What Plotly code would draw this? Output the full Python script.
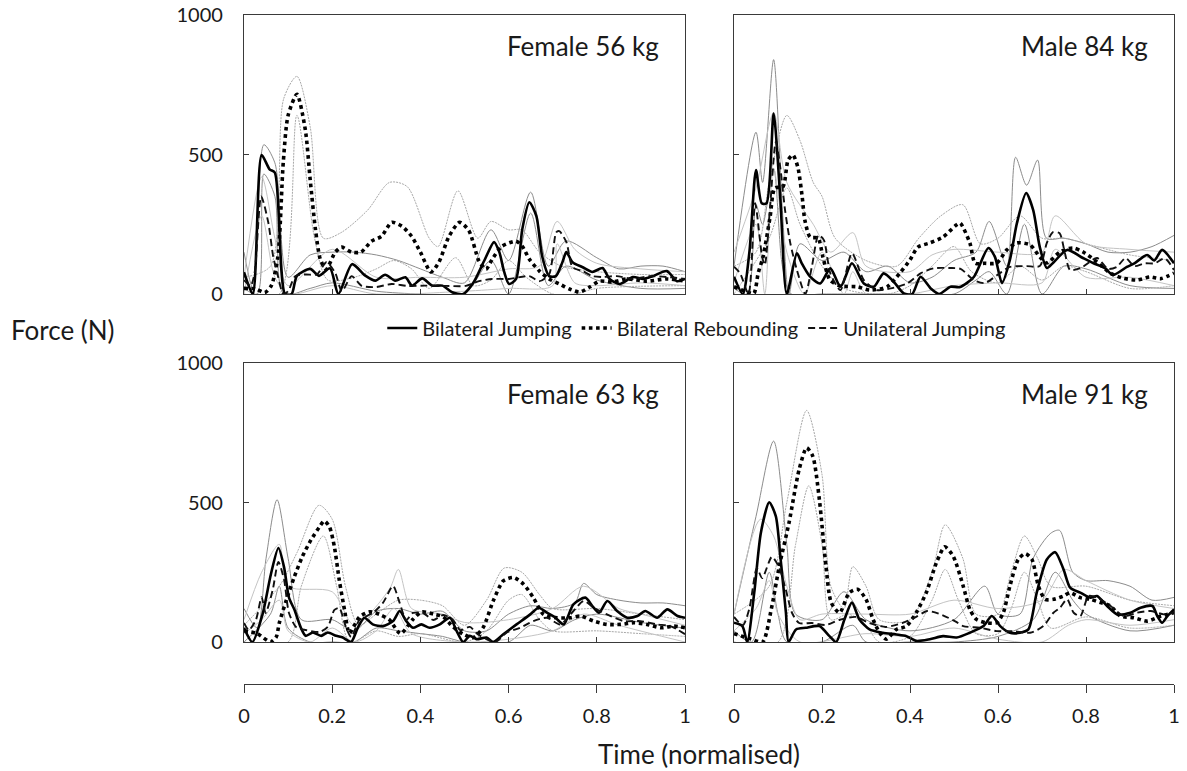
import plotly.graph_objects as go

# ---------------- data (time normalised, force N) ----------------
PANELS = ["Female 56 kg", "Male 84 kg", "Female 63 kg", "Male 91 kg"]
SERIES = ["Bilateral Jumping", "Bilateral Rebounding", "Unilateral Jumping"]
X_TICKS = [0, 0.2, 0.4, 0.6, 0.8, 1]
X_TICK_TEXT = ["0", "0.2", "0.4", "0.6", "0.8", "1"]
Y_TICKS = [0, 500, 1000]

# Female 56 kg
F56_BJ = [(0,78),(0.02,0),(0.04,498),(0.058,447),(0.07,435),(0.093,0),(0.108,0),(0.12,65),(0.15,90),(0.17,65),(0.195,92),(0.214,0),(0.245,107),(0.275,66),(0.298,48),(0.32,69),(0.343,48),(0.366,60),(0.381,30),(0.404,56),(0.427,30),(0.45,30),(0.472,6),(0.497,0),(0.52,40),(0.545,120),(0.567,186),(0.579,150),(0.59,79),(0.601,36),(0.617,54),(0.631,232),(0.647,329),(0.663,279),(0.676,136),(0.692,64),(0.707,64),(0.722,114),(0.731,150),(0.745,114),(0.768,96),(0.79,79),(0.813,93),(0.829,54),(0.852,36),(0.882,61),(0.905,54),(0.927,64),(0.959,82),(0.982,46),(1,54)]
F56_BR = [(0,20),(0.027,18),(0.047,5),(0.062,30),(0.077,136),(0.089,471),(0.1,640),(0.12,716),(0.139,589),(0.15,411),(0.162,232),(0.173,125),(0.186,89),(0.207,150),(0.221,168),(0.244,150),(0.265,150),(0.289,189),(0.312,207),(0.335,257),(0.358,243),(0.38,207),(0.4,150),(0.424,79),(0.442,114),(0.465,207),(0.489,257),(0.51,227),(0.533,118),(0.549,89),(0.563,125),(0.585,171),(0.617,189),(0.631,171),(0.647,125),(0.67,82),(0.692,54),(0.715,36),(0.738,18),(0.761,7),(0.784,25),(0.806,46),(0.836,43),(0.868,54),(0.913,46),(0.959,54),(1,46)]
F56_UJ = [(0,50),(0.015,30),(0.024,75),(0.039,350),(0.055,257),(0.066,136),(0.077,64),(0.089,0),(0.1,10),(0.116,64),(0.14,70),(0.165,70),(0.187,114),(0.207,75),(0.222,10),(0.244,64),(0.267,29),(0.3,25),(0.335,36),(0.37,29),(0.41,30),(0.457,29),(0.503,29),(0.533,46),(0.563,54),(0.601,54),(0.647,64),(0.67,46),(0.692,71),(0.708,221),(0.715,225),(0.731,186),(0.745,96),(0.768,82),(0.79,64),(0.813,61),(0.845,64),(0.882,54),(0.92,64),(0.959,61),(1,54)]
F56_BJ_HI = [(0,150),(0.02,20),(0.045,535),(0.07,470),(0.1,60),(0.15,140),(0.2,150),(0.25,150),(0.3,140),(0.35,120),(0.4,90),(0.45,60),(0.5,40),(0.56,230),(0.6,120),(0.65,365),(0.69,100),(0.73,190),(0.8,130),(0.85,90),(0.9,100),(0.95,100),(1,80)]
F56_BJ_LO = [(0,20),(0.03,0),(0.045,430),(0.07,350),(0.09,0),(0.15,20),(0.2,40),(0.3,10),(0.4,0),(0.5,0),(0.56,120),(0.6,0),(0.65,290),(0.69,30),(0.73,100),(0.8,50),(0.9,20),(1,20)]
F56_BR_HI = [(0,60),(0.06,100),(0.09,700),(0.12,780),(0.15,600),(0.18,200),(0.22,220),(0.28,300),(0.33,400),(0.37,385),(0.42,200),(0.44,170),(0.485,370),(0.53,200),(0.56,260),(0.6,230),(0.63,230),(0.67,150),(0.72,100),(0.8,80),(0.9,70),(1,70)]
F56_BR_LO = [(0,0),(0.08,0),(0.12,640),(0.16,200),(0.19,50),(0.25,60),(0.3,90),(0.34,120),(0.38,90),(0.42,20),(0.48,130),(0.52,30),(0.56,50),(0.6,120),(0.64,60),(0.7,0),(0.75,0),(0.8,20),(1,30)]
F56_UJ_HI = [(0,60),(0.04,420),(0.07,200),(0.1,30),(0.2,160),(0.3,60),(0.4,60),(0.5,60),(0.6,90),(0.67,100),(0.71,260),(0.75,160),(0.8,110),(0.9,90),(1,80)]
F56_UJ_LO = [(0,0),(0.04,280),(0.07,60),(0.1,0),(0.2,30),(0.3,0),(0.5,10),(0.6,20),(0.7,30),(0.71,180),(0.75,40),(0.8,30),(0.9,40),(1,30)]

# Male 84 kg
M84_BJ = [(0,62),(0.02,0),(0.035,150),(0.05,444),(0.063,325),(0.074,325),(0.09,647),(0.105,349),(0.12,0),(0.143,146),(0.154,110),(0.173,62),(0.196,38),(0.219,92),(0.242,26),(0.268,110),(0.295,38),(0.318,26),(0.34,74),(0.363,44),(0.386,2),(0.405,0),(0.424,62),(0.447,20),(0.466,0),(0.492,26),(0.514,25),(0.545,61),(0.578,165),(0.593,133),(0.609,39),(0.627,122),(0.643,254),(0.664,362),(0.68,301),(0.695,168),(0.711,93),(0.725,111),(0.757,158),(0.793,129),(0.816,111),(0.843,93),(0.861,68),(0.893,97),(0.91,110),(0.939,140),(0.955,120),(0.973,158),(1,110)]
M84_BR = [(0,26),(0.029,8),(0.045,2),(0.055,75),(0.066,133),(0.082,276),(0.093,380),(0.111,384),(0.123,480),(0.134,498),(0.145,455),(0.155,348),(0.161,265),(0.173,204),(0.191,200),(0.202,133),(0.218,50),(0.241,29),(0.28,26),(0.309,14),(0.348,26),(0.377,75),(0.4,122),(0.418,168),(0.445,183),(0.475,204),(0.505,247),(0.514,254),(0.536,183),(0.548,111),(0.57,110),(0.597,111),(0.62,158),(0.643,183),(0.673,176),(0.695,133),(0.711,111),(0.741,151),(0.77,165),(0.793,151),(0.825,115),(0.855,75),(0.884,57),(0.916,50),(0.945,61),(0.97,55),(1,75)]
M84_UJ = [(0,98),(0.014,74),(0.033,0),(0.048,325),(0.064,133),(0.07,104),(0.082,312),(0.095,545),(0.105,456),(0.116,301),(0.128,182),(0.143,86),(0.162,0),(0.177,98),(0.192,211),(0.204,194),(0.219,74),(0.242,14),(0.268,146),(0.295,50),(0.325,14),(0.356,20),(0.394,38),(0.424,74),(0.454,92),(0.491,93),(0.515,90),(0.545,50),(0.57,39),(0.6,70),(0.627,97),(0.665,100),(0.695,100),(0.711,183),(0.725,222),(0.74,218),(0.752,147),(0.764,86),(0.79,95),(0.825,129),(0.85,90),(0.87,97),(0.89,129),(0.91,100),(0.933,110),(0.956,110),(0.979,128),(1,86)]
M84_BJ_HI = [(0,100),(0.05,580),(0.065,400),(0.09,840),(0.11,300),(0.125,0),(0.15,180),(0.2,120),(0.25,150),(0.3,80),(0.35,100),(0.4,40),(0.45,60),(0.5,120),(0.55,150),(0.58,260),(0.62,100),(0.64,490),(0.665,390),(0.69,480),(0.71,200),(0.75,200),(0.8,180),(0.85,150),(0.9,150),(0.95,170),(1,210)]
M84_BJ_LO = [(0,20),(0.03,0),(0.05,320),(0.065,250),(0.09,450),(0.11,100),(0.13,0),(0.2,0),(0.3,0),(0.4,0),(0.5,0),(0.55,50),(0.58,80),(0.62,0),(0.66,250),(0.7,0),(0.75,100),(0.8,90),(0.9,30),(1,20)]
M84_BR_HI = [(0,100),(0.05,150),(0.08,400),(0.12,640),(0.15,550),(0.18,400),(0.2,350),(0.23,200),(0.3,120),(0.37,100),(0.42,200),(0.47,280),(0.52,320),(0.56,180),(0.6,200),(0.65,280),(0.7,200),(0.75,200),(0.8,180),(0.9,140),(1,120)]
M84_BR_LO = [(0,0),(0.08,200),(0.12,380),(0.15,250),(0.2,100),(0.25,20),(0.35,0),(0.4,30),(0.45,100),(0.5,170),(0.54,80),(0.6,40),(0.65,100),(0.7,50),(0.75,100),(0.8,80),(0.9,20),(1,30)]
M84_UJ_HI = [(0,150),(0.05,380),(0.09,650),(0.12,400),(0.18,250),(0.22,150),(0.27,220),(0.3,100),(0.4,80),(0.45,140),(0.5,160),(0.6,150),(0.7,150),(0.73,280),(0.8,180),(0.9,160),(1,150)]
M84_UJ_LO = [(0,40),(0.05,250),(0.07,0),(0.09,450),(0.12,150),(0.16,0),(0.2,150),(0.25,0),(0.27,80),(0.3,0),(0.4,0),(0.5,30),(0.6,40),(0.7,40),(0.73,160),(0.8,60),(0.9,60),(1,30)]

# Female 63 kg
F63_BJ = [(0,51),(0.019,0),(0.042,99),(0.061,243),(0.078,337),(0.091,267),(0.102,159),(0.114,117),(0.129,51),(0.14,22),(0.156,34),(0.175,22),(0.19,34),(0.209,22),(0.224,16),(0.243,0),(0.258,51),(0.273,87),(0.292,63),(0.315,57),(0.338,75),(0.353,111),(0.368,75),(0.383,51),(0.402,63),(0.421,51),(0.444,63),(0.467,87),(0.482,40),(0.497,0),(0.512,22),(0.527,10),(0.55,16),(0.565,0),(0.588,28),(0.618,63),(0.649,99),(0.668,123),(0.687,105),(0.706,87),(0.725,63),(0.747,135),(0.774,159),(0.79,129),(0.805,105),(0.824,147),(0.846,111),(0.869,87),(0.892,93),(0.91,111),(0.937,87),(0.96,117),(0.983,93),(1,87)]
F63_BR = [(0,40),(0.03,30),(0.06,0),(0.073,18),(0.08,68),(0.096,150),(0.114,233),(0.132,305),(0.152,366),(0.171,412),(0.182,434),(0.194,412),(0.205,341),(0.216,222),(0.228,115),(0.239,32),(0.262,90),(0.285,108),(0.31,97),(0.33,79),(0.355,30),(0.383,81),(0.403,108),(0.43,100),(0.452,90),(0.474,54),(0.497,28),(0.52,16),(0.542,51),(0.565,147),(0.588,219),(0.611,231),(0.634,207),(0.656,159),(0.679,99),(0.709,87),(0.74,87),(0.763,93),(0.793,75),(0.823,63),(0.854,63),(0.884,69),(0.914,63),(0.945,51),(0.975,57),(1,51)]
F63_UJ = [(0,68),(0.011,43),(0.027,79),(0.04,161),(0.049,104),(0.065,186),(0.078,287),(0.091,222),(0.102,104),(0.118,54),(0.14,43),(0.171,36),(0.19,54),(0.205,115),(0.216,122),(0.231,54),(0.243,18),(0.262,79),(0.292,104),(0.315,140),(0.338,201),(0.353,140),(0.368,79),(0.383,104),(0.406,104),(0.429,79),(0.452,97),(0.474,79),(0.49,43),(0.512,54),(0.53,28),(0.55,10),(0.57,0),(0.596,34),(0.626,51),(0.656,75),(0.687,87),(0.717,63),(0.747,111),(0.77,147),(0.793,123),(0.823,99),(0.861,75),(0.899,75),(0.937,63),(0.967,57),(1,28)]
F63_BJ_HI = [(0,120),(0.03,50),(0.05,300),(0.075,510),(0.1,300),(0.13,80),(0.2,80),(0.25,40),(0.3,110),(0.35,120),(0.4,100),(0.45,110),(0.5,40),(0.55,40),(0.6,100),(0.65,130),(0.7,120),(0.75,140),(0.77,210),(0.8,170),(0.85,150),(0.9,140),(0.95,140),(1,130)]
F63_BJ_LO = [(0,0),(0.06,100),(0.08,200),(0.1,50),(0.15,0),(0.2,0),(0.25,0),(0.3,50),(0.35,40),(0.4,30),(0.45,20),(0.5,0),(0.6,0),(0.65,60),(0.7,40),(0.75,80),(0.8,100),(0.9,70),(1,50)]
F63_BR_HI = [(0,60),(0.08,200),(0.12,320),(0.17,490),(0.2,440),(0.23,200),(0.26,60),(0.3,100),(0.35,150),(0.4,150),(0.45,130),(0.5,60),(0.55,150),(0.59,265),(0.63,250),(0.67,170),(0.7,120),(0.8,120),(0.9,100),(1,80)]
F63_BR_LO = [(0,0),(0.1,0),(0.13,200),(0.18,380),(0.21,200),(0.24,0),(0.3,40),(0.35,20),(0.4,30),(0.5,0),(0.55,40),(0.6,150),(0.63,170),(0.67,80),(0.7,40),(0.8,40),(0.9,30),(1,20)]
F63_UJ_HI = [(0,80),(0.04,250),(0.08,350),(0.1,200),(0.2,180),(0.25,60),(0.33,190),(0.35,260),(0.38,120),(0.45,100),(0.5,70),(0.6,80),(0.7,120),(0.77,200),(0.85,120),(0.9,100),(1,60)]
F63_UJ_LO = [(0,30),(0.04,80),(0.08,150),(0.1,40),(0.15,0),(0.2,50),(0.25,0),(0.3,40),(0.34,120),(0.38,30),(0.5,0),(0.6,10),(0.7,40),(0.77,100),(0.85,60),(1,0)]

# Male 91 kg
M91_BJ = [(0,69),(0.019,57),(0.03,0),(0.046,177),(0.061,391),(0.08,501),(0.095,451),(0.106,296),(0.118,105),(0.124,0),(0.141,45),(0.163,51),(0.194,57),(0.217,21),(0.232,0),(0.251,81),(0.268,141),(0.285,81),(0.308,45),(0.338,33),(0.369,27),(0.392,21),(0.414,4),(0.445,10),(0.475,21),(0.506,16),(0.536,33),(0.567,57),(0.586,93),(0.605,57),(0.627,33),(0.65,33),(0.669,45),(0.688,177),(0.711,296),(0.73,322),(0.749,260),(0.764,195),(0.787,177),(0.81,159),(0.825,165),(0.848,129),(0.871,99),(0.901,105),(0.924,123),(0.951,129),(0.962,93),(0.973,69),(0.985,93),(1,117)]
M91_BR = [(0,30),(0.04,10),(0.065,0),(0.085,120),(0.103,272),(0.125,427),(0.148,618),(0.165,696),(0.179,666),(0.194,511),(0.209,272),(0.221,141),(0.24,105),(0.262,177),(0.281,189),(0.3,153),(0.316,81),(0.331,33),(0.346,10),(0.369,45),(0.392,57),(0.414,105),(0.437,177),(0.46,284),(0.479,341),(0.498,308),(0.521,200),(0.536,117),(0.551,81),(0.574,69),(0.597,69),(0.612,105),(0.627,200),(0.646,296),(0.662,317),(0.677,296),(0.692,200),(0.707,153),(0.726,153),(0.749,165),(0.764,177),(0.787,159),(0.81,153),(0.833,141),(0.856,129),(0.878,93),(0.909,87),(0.939,75),(0.97,93),(1,105)]
M91_UJ = [(0,90),(0.02,60),(0.035,120),(0.052,265),(0.064,229),(0.086,305),(0.102,269),(0.118,186),(0.132,104),(0.148,68),(0.177,68),(0.209,61),(0.239,79),(0.277,90),(0.307,68),(0.345,54),(0.382,68),(0.414,90),(0.439,111),(0.473,97),(0.505,72),(0.521,57),(0.559,51),(0.597,39),(0.635,39),(0.673,33),(0.703,57),(0.726,105),(0.741,123),(0.757,153),(0.772,105),(0.787,93),(0.806,165),(0.825,159),(0.856,129),(0.886,93),(0.916,105),(0.947,111),(0.977,99),(1,105)]
M91_BJ_HI = [(0,100),(0.05,450),(0.09,720),(0.12,350),(0.14,100),(0.2,80),(0.25,180),(0.3,80),(0.4,40),(0.5,80),(0.57,200),(0.6,100),(0.65,100),(0.68,300),(0.72,390),(0.74,400),(0.77,250),(0.8,220),(0.85,220),(0.9,200),(0.95,150),(1,160)]
M91_BJ_LO = [(0,40),(0.04,0),(0.08,250),(0.1,100),(0.12,0),(0.2,0),(0.27,60),(0.3,0),(0.4,0),(0.5,0),(0.6,20),(0.68,80),(0.73,250),(0.77,150),(0.8,100),(0.9,40),(1,60)]
M91_BR_HI = [(0,100),(0.08,200),(0.12,500),(0.165,830),(0.2,600),(0.22,200),(0.25,120),(0.27,270),(0.3,200),(0.33,80),(0.4,80),(0.45,250),(0.48,420),(0.52,300),(0.55,100),(0.6,100),(0.63,250),(0.66,380),(0.69,300),(0.72,200),(0.8,200),(0.9,150),(1,130)]
M91_BR_LO = [(0,0),(0.1,0),(0.14,350),(0.17,560),(0.2,350),(0.22,80),(0.26,100),(0.3,60),(0.33,0),(0.4,20),(0.45,150),(0.48,260),(0.51,150),(0.55,30),(0.6,30),(0.63,120),(0.66,250),(0.69,150),(0.72,50),(0.8,90),(0.9,50),(1,60)]
M91_UJ_HI = [(0,100),(0.06,440),(0.09,380),(0.12,200),(0.15,80),(0.2,100),(0.3,100),(0.4,100),(0.5,150),(0.6,120),(0.7,150),(0.75,260),(0.8,220),(0.9,150),(1,120)]
M91_UJ_LO = [(0,40),(0.05,120),(0.08,220),(0.1,100),(0.15,0),(0.3,30),(0.4,20),(0.5,50),(0.6,10),(0.7,0),(0.76,60),(0.8,80),(0.9,60),(1,80)]

PANEL_DATA = [
    (F56_BJ, F56_BR, F56_UJ, [F56_BJ_HI, F56_BJ_LO], [F56_BR_HI, F56_BR_LO], [F56_UJ_HI, F56_UJ_LO]),
    (M84_BJ, M84_BR, M84_UJ, [M84_BJ_HI, M84_BJ_LO], [M84_BR_HI, M84_BR_LO], [M84_UJ_HI, M84_UJ_LO]),
    (F63_BJ, F63_BR, F63_UJ, [F63_BJ_HI, F63_BJ_LO], [F63_BR_HI, F63_BR_LO], [F63_UJ_HI, F63_UJ_LO]),
    (M91_BJ, M91_BR, M91_UJ, [M91_BJ_HI, M91_BJ_LO], [M91_BR_HI, M91_BR_LO], [M91_UJ_HI, M91_UJ_LO]),
]

# ---------------- layout geometry ----------------
W, H = 1187, 771
FONT = "Lato, 'Noto Sans', sans-serif"
TXT = "#1a1a1a"
AX = "#3a3a3a"

def px_x(p):
    return p / W

def px_y(p):
    return 1 - p / H

XDOM = [[px_x(244), px_x(685)], [px_x(734), px_x(1174)]]
YDOM = [[px_y(294), px_y(15)], [px_y(642), px_y(363)]]

fig = go.Figure()

def xy(pts):
    return [p[0] for p in pts], [p[1] for p in pts]

main_styles = [
    dict(color="#000000", width=2.6),
    dict(color="#000000", width=3.6, dash="dot"),
    dict(color="#111111", width=1.9, dash="7px,4px"),
]
band_styles = [
    dict(color="#8c8c8c", width=1),
    dict(color="#a8a8a8", width=1, dash="2px,1px"),
    dict(color="#c4c4c4", width=1),
]

for i, (bj, br, uj, bjb, brb, ujb) in enumerate(PANEL_DATA):
    xa = "x" if i == 0 else f"x{i+1}"
    ya = "y" if i == 0 else f"y{i+1}"
    for style, bands in zip(band_styles, [bjb, brb, ujb]):
        for b in bands:
            bx, by = xy(b)
            fig.add_trace(go.Scatter(x=bx, y=by, mode="lines", line=dict(shape="spline", smoothing=0.8, **style),
                                     xaxis=xa, yaxis=ya, showlegend=False, hoverinfo="skip"))
    for k, (name, ser) in enumerate(zip(SERIES, [bj, br, uj])):
        sx, sy = xy(ser)
        fig.add_trace(go.Scatter(x=sx, y=sy, mode="lines", name=name,
                                 line=dict(shape="spline", smoothing=0.7, **main_styles[k]),
                                 xaxis=xa, yaxis=ya, showlegend=(i == 0), legendrank=k))

# dummy traces for bottom free axes
fig.add_trace(go.Scatter(x=[0, 1], y=[None, None], xaxis="x5", yaxis="y3", showlegend=False, hoverinfo="skip"))
fig.add_trace(go.Scatter(x=[0, 1], y=[None, None], xaxis="x6", yaxis="y4", showlegend=False, hoverinfo="skip"))

layout = dict(
    width=W, height=H, margin=dict(l=0, r=0, t=0, b=0, autoexpand=False),
    paper_bgcolor="white", plot_bgcolor="white",
    font=dict(family=FONT, color=TXT, size=20),
    showlegend=True,
    legend=dict(orientation="h", x=0.587, xanchor="center", y=px_y(328), yanchor="middle",
                font=dict(size=20, family=FONT, color=TXT), itemwidth=30, traceorder="normal",
                bgcolor="rgba(0,0,0,0)"),
)

for i in range(4):
    col, row = i % 2, i // 2
    sfx = "" if i == 0 else str(i + 1)
    layout["xaxis" + sfx] = dict(domain=XDOM[col], range=[0, 1], anchor="y" + sfx, automargin=False,
                                 showline=True, mirror=True, linecolor=AX, linewidth=1.3,
                                 ticks="inside", tickvals=[0.2, 0.4, 0.6, 0.8], ticklen=5,
                                 tickcolor=AX, tickwidth=1.2, showticklabels=False,
                                 showgrid=False, zeroline=False, fixedrange=True)
    layout["yaxis" + sfx] = dict(domain=YDOM[row], range=[0, 1000], anchor="x" + sfx, automargin=False,
                                 showline=True, mirror=True, linecolor=AX, linewidth=1.3,
                                 ticks="inside", tickvals=Y_TICKS, ticklen=5,
                                 tickcolor=AX, tickwidth=1.2, showticklabels=(col == 0),
                                 ticklabelstandoff=16,
                                 tickfont=dict(size=20, family=FONT, color=TXT),
                                 showgrid=False, zeroline=False, fixedrange=True)

for j, over in [(5, "x3"), (6, "x4")]:
    layout[f"xaxis{j}"] = dict(overlaying=over, anchor="free", position=px_y(684), range=[0, 1],
                               automargin=False,
                               showline=True, linecolor=AX, linewidth=1.3,
                               ticks="outside", ticklen=8, tickwidth=1.2, tickcolor=AX,
                               tickvals=X_TICKS, ticktext=X_TICK_TEXT, ticklabelstandoff=6,
                               tickfont=dict(size=20, family=FONT, color=TXT),
                               showgrid=False, zeroline=False, fixedrange=True, side="bottom")

annotations = []
for i, title in enumerate(PANELS):
    ref = "x" if i == 0 else f"x{i+1}"
    yref = "y" if i == 0 else f"y{i+1}"
    annotations.append(dict(text=title, xref=ref + " domain", yref=yref + " domain",
                            x=0.946, y=0.889, xanchor="right", yanchor="middle", showarrow=False,
                            font=dict(size=26, family=FONT, color=TXT)))
annotations.append(dict(text="Force (N)", xref="paper", yref="paper", x=px_x(63), y=px_y(330),
                        xanchor="center", yanchor="middle", showarrow=False,
                        font=dict(size=26, family=FONT, color=TXT)))
annotations.append(dict(text="Time (normalised)", xref="paper", yref="paper", x=px_x(699), y=px_y(754),
                        xanchor="center", yanchor="middle", showarrow=False,
                        font=dict(size=26, family=FONT, color=TXT)))
layout["annotations"] = annotations

fig.update_layout(**layout)
fig.write_html("out.html")
